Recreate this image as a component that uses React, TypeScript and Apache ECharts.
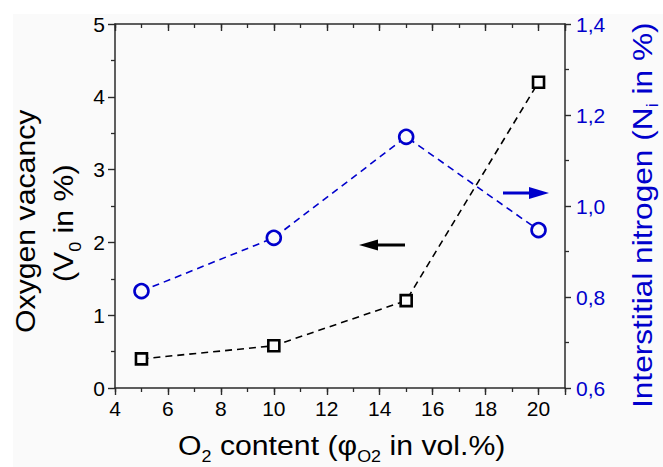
import React, { useEffect, useRef } from "react";
import * as echarts from "echarts";

const o2Content = [5, 10, 15, 20];
const oxygenVacancy = [0.4, 0.58, 1.2, 4.2];
const interstitialNitrogen = [0.813, 0.93, 1.152, 0.947];

const FONT = "'Liberation Sans', Arial, sans-serif";
const BLUE = "#0000cc";
const AXIS = "#2a2a2a";

export default function App() {
  const ref = useRef<HTMLDivElement>(null);
  useEffect(() => {
    document.body.style.margin = "0";
    const chart = echarts.init(ref.current!, null, { renderer: "svg" });
    const sub = (color: string) => ({
      fontFamily: FONT,
      fontSize: 16,
      fill: color,
      verticalAlign: "bottom",
    });
    const axisBase = {
      type: "value",
      min: 4,
      max: 21,
      splitLine: { show: false },
    };
    chart.setOption({
      animation: false,
      grid: { left: 115, right: 98, top: 24, bottom: 79 },
      xAxis: [
        {
          ...axisBase,
          position: "bottom",
          interval: 2,
          axisLine: { show: true, lineStyle: { color: AXIS, width: 1.5 } },
          axisTick: { show: true, inside: false, length: 7, lineStyle: { color: AXIS, width: 1.4 } },
          axisLabel: {
            color: "#000",
            fontFamily: FONT,
            fontSize: 21,
            margin: 10,
            formatter: (v: number) => (v > 20.5 ? "" : String(v)),
          },
        },
        {
          ...axisBase,
          position: "bottom",
          interval: 1,
          axisLine: { show: false },
          axisTick: { show: true, inside: false, length: 4, lineStyle: { color: AXIS, width: 1.3 } },
          axisLabel: { show: false },
        },
        {
          ...axisBase,
          position: "top",
          interval: 2,
          axisLine: { show: true, lineStyle: { color: AXIS, width: 1.5 } },
          axisTick: { show: true, inside: true, length: 7, lineStyle: { color: AXIS, width: 1.4 } },
          axisLabel: { show: false },
        },
        {
          ...axisBase,
          position: "top",
          interval: 1,
          axisLine: { show: false },
          axisTick: { show: true, inside: true, length: 4, lineStyle: { color: AXIS, width: 1.3 } },
          axisLabel: { show: false },
        },
      ],
      yAxis: [
        {
          type: "value",
          position: "left",
          min: 0,
          max: 5,
          interval: 1,
          splitLine: { show: false },
          axisLine: { show: true, lineStyle: { color: AXIS, width: 1.5 } },
          axisTick: { show: true, inside: false, length: 7, lineStyle: { color: AXIS, width: 1.4 } },
          minorTick: { show: true, splitNumber: 2, length: 4, lineStyle: { color: AXIS, width: 1.3 } },
          axisLabel: { color: "#000", fontFamily: FONT, fontSize: 21, margin: 10 },
        },
        {
          type: "value",
          position: "right",
          min: 0.6,
          max: 1.4,
          interval: 0.2,
          splitLine: { show: false },
          axisLine: { show: true, lineStyle: { color: AXIS, width: 1.5 } },
          axisTick: { show: true, inside: false, length: 6, lineStyle: { color: AXIS, width: 1.4 } },
          minorTick: { show: true, splitNumber: 2, length: 4, lineStyle: { color: AXIS, width: 1.3 } },
          axisLabel: {
            color: BLUE,
            fontFamily: FONT,
            fontSize: 21,
            margin: 11,
            formatter: (v: number) => v.toFixed(1).replace(".", ","),
          },
        },
      ],
      series: [
        {
          type: "line",
          xAxisIndex: 0,
          yAxisIndex: 0,
          data: o2Content.map((x, i) => [x, oxygenVacancy[i]]),
          symbol: "rect",
          symbolSize: 11,
          itemStyle: { color: "#fafafa", borderColor: "#000", borderWidth: 2.6 },
          lineStyle: { color: "#000", width: 1.6, type: [7, 5] },
          z: 3,
        },
        {
          type: "line",
          xAxisIndex: 0,
          yAxisIndex: 1,
          data: o2Content.map((x, i) => [x, interstitialNitrogen[i]]),
          symbol: "circle",
          symbolSize: 14,
          itemStyle: { color: "#fafafa", borderColor: BLUE, borderWidth: 2.6 },
          lineStyle: { color: BLUE, width: 1.6, type: [7, 5] },
          z: 3,
        },
      ],
      graphic: [
        {
          type: "text",
          x: 26,
          y: 333,
          rotation: Math.PI / 2,
          scaleX: 1.12,
          style: {
            text: "Oxygen vacancy",
            fontFamily: FONT,
            fontSize: 27,
            fill: "#000",
            align: "left",
            verticalAlign: "middle",
          },
        },
        {
          type: "text",
          x: 64,
          y: 282,
          rotation: Math.PI / 2,
          scaleX: 1.12,
          style: {
            text: "(V{s|0} in %)",
            fontFamily: FONT,
            fontSize: 27,
            lineHeight: 40,
            fill: "#000",
            align: "left",
            verticalAlign: "middle",
            rich: { s: sub("#000") },
          },
        },
        {
          type: "text",
          x: 642,
          y: 408,
          rotation: Math.PI / 2,
          scaleX: 1.13,
          style: {
            text: "Interstitial nitrogen (N{s|i} in %)",
            fontFamily: FONT,
            fontSize: 28,
            lineHeight: 38,
            fill: BLUE,
            align: "left",
            verticalAlign: "middle",
            rich: { s: sub(BLUE) },
          },
        },
        {
          type: "text",
          x: 178,
          y: 446,
          scaleX: 1.12,
          style: {
            text: "O{s|2} content (\u03c6{s|O2} in vol.%)",
            fontFamily: FONT,
            fontSize: 27,
            lineHeight: 38,
            fill: "#000",
            align: "left",
            verticalAlign: "middle",
            rich: { s: sub("#000") },
          },
        },
        {
          type: "line",
          shape: { x1: 405, y1: 245, x2: 372, y2: 245 },
          style: { stroke: "#000", lineWidth: 3 },
        },
        {
          type: "polygon",
          shape: { points: [[359, 245], [378, 239.5], [378, 250.5]] },
          style: { fill: "#000" },
        },
        {
          type: "line",
          shape: { x1: 503, y1: 193, x2: 535, y2: 193 },
          style: { stroke: BLUE, lineWidth: 3 },
        },
        {
          type: "polygon",
          shape: { points: [[549, 193], [529, 187], [529, 199]] },
          style: { fill: BLUE },
        },
      ],
    });
    return () => chart.dispose();
  }, []);
  return (
    <div
      ref={ref}
      style={{
        width: 663,
        height: 467,
        background: "linear-gradient(#fafafa,#fafafa) 13px 14px / 650px 453px no-repeat, #ffffff",
      }}
    />
  );
}
